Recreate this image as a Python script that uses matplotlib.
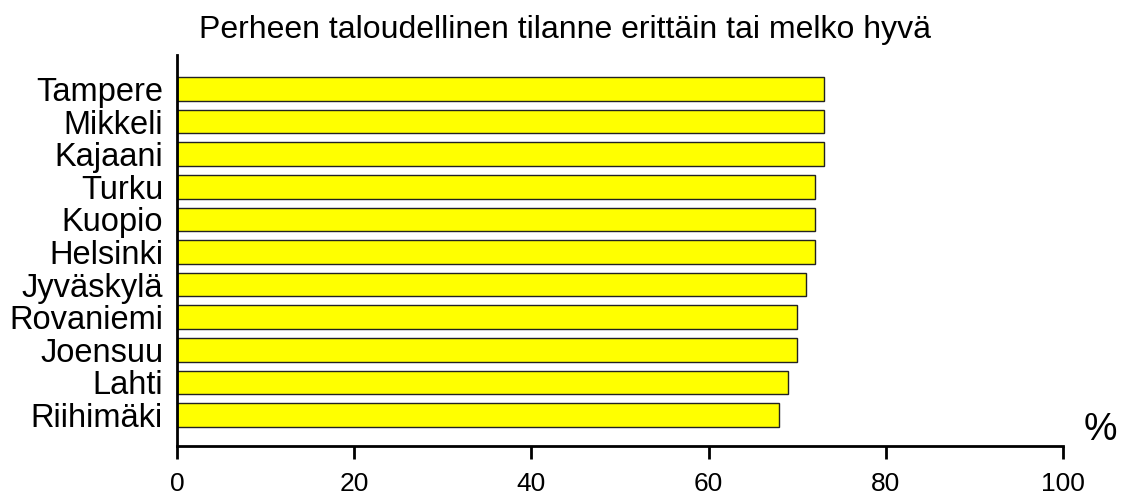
import matplotlib.pyplot as plt

plt.rcParams['font.family'] = ['Liberation Sans', 'DejaVu Sans']

# cities from top to bottom
cities = ["Tampere", "Mikkeli", "Kajaani", "Turku", "Kuopio", "Helsinki",
          "Jyväskylä", "Rovaniemi", "Joensuu", "Lahti", "Riihimäki"]
values = [73, 73, 73, 72, 72, 72, 71, 70, 70, 69, 68]
xticks = [0, 20, 40, 60, 80, 100]

fig = plt.figure(figsize=(11.23, 4.97), dpi=100)
ax = fig.add_axes([0.1576, 0.1026, 0.7890, 0.7867])

pos = list(range(len(cities)))[::-1]
ax.barh(pos, values, height=0.72, color="#ffff00", edgecolor="#222222", linewidth=1.0)

ax.set_xlim(0, 100)
ax.set_ylim(-0.95, 11.04)
ax.set_xticks(xticks)
ax.set_xticklabels([str(t) for t in xticks], fontsize=19)
ax.set_yticks(pos)
ax.set_yticklabels(cities, fontsize=23.5)
ax.tick_params(axis="y", length=0, pad=10)
ax.tick_params(axis="x", direction="out", length=9, width=2, pad=10)

for side in ["top", "right"]:
    ax.spines[side].set_visible(False)
for side in ["left", "bottom"]:
    ax.spines[side].set_linewidth(2)

fig.text(0.503, 0.94, "Perheen taloudellinen tilanne erittäin tai melko hyvä",
         fontsize=23, ha="center", va="center")
fig.text(0.995, 0.135, "%", fontsize=27, ha="right", va="center")

fig.savefig("out.png", dpi=100)
